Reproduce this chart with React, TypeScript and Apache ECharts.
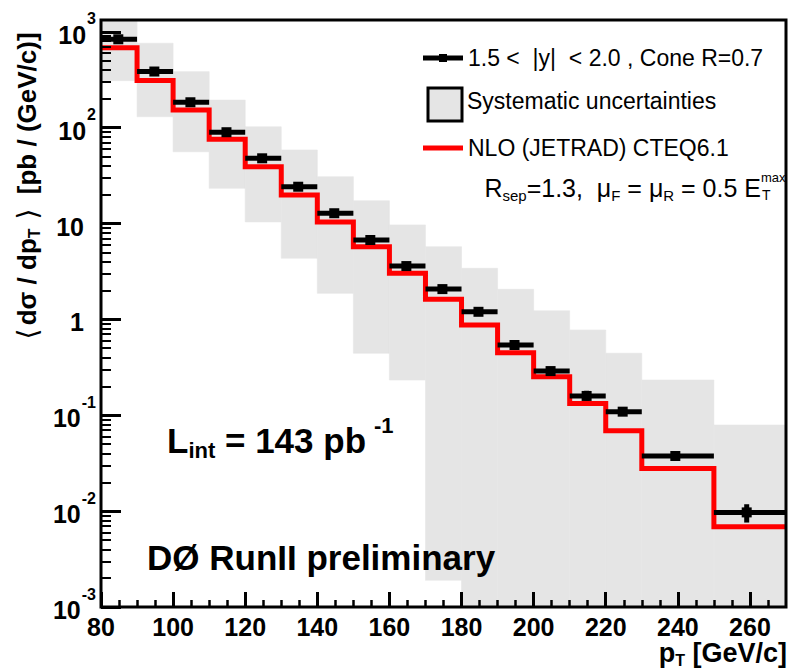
import React, { useEffect, useRef } from "react";
import * as echarts from "echarts";

// pT bin edges [GeV/c]
const binEdges = [80, 90, 100, 110, 120, 130, 140, 150, 160, 170, 180, 190, 200, 210, 220, 230, 250, 270];
// mean pT of the measured points in each bin
const ptMean = [84.8, 94.8, 104.8, 114.8, 124.7, 134.7, 144.7, 154.7, 164.7, 174.7, 184.7, 194.7, 204.7, 214.7, 224.7, 239.3, 259.1];
// measured cross section <dsigma/dpT> [pb/(GeV/c)]
const xsecData = [835, 385, 184, 89.6, 47.9, 24.2, 12.8, 6.73, 3.6, 2.07, 1.2, 0.541, 0.289, 0.159, 0.109, 0.0376, 0.0097];
// statistical error band edges
const statLow = [800, 368, 177, 86.5, 46.2, 23.3, 12.3, 6.45, 3.44, 1.97, 1.14, 0.515, 0.275, 0.142, 0.102, 0.0352, 0.0076];
const statHigh = [872, 402, 191, 93, 49.6, 25.1, 13.3, 7.0, 3.76, 2.17, 1.26, 0.568, 0.303, 0.18, 0.116, 0.0401, 0.0118];
// systematic uncertainty band per bin
const systLow = [309, 130, 56, 23.3, 10.4, 4.34, 1.87, 0.443, 0.233, 0.0019, 0.0005, 0.0005, 0.0005, 0.0005, 0.0005, 0.0005, 0.0005];
const systHigh = [2000, 759, 384, 194, 102, 58.5, 30.8, 17.3, 9.66, 5.73, 3.41, 2.06, 1.23, 0.775, 0.443, 0.233, 0.079];
// NLO prediction (JETRAD, CTEQ6.1) per bin
const nloJetrad = [680, 310, 153, 75.7, 39.2, 19.8, 10.4, 5.73, 3.03, 1.62, 0.873, 0.449, 0.252, 0.133, 0.069, 0.0279, 0.00687];

// axis ticks
const xMajorTicks = [80, 100, 120, 140, 160, 180, 200, 220, 240, 260];
const xMinorTicks = [85, 90, 95, 105, 110, 115, 125, 130, 135, 145, 150, 155, 165, 170, 175, 185, 190, 195, 205, 210, 215, 225, 230, 235, 245, 250, 255, 265];
const yDecades = [0.001, 0.01, 0.1, 1, 10, 100, 1000];
const yMinorTicks: number[] = [];
for (const d of yDecades) {
  for (const m of [2, 3, 4, 5, 6, 7, 8, 9]) yMinorTicks.push(+(m * d).toPrecision(3));
}

const FONT = "'Liberation Sans', Arial, Helvetica, sans-serif";

const GRID = { left: 101, top: 20, width: 685, height: 587 };

function buildOption(): any {
  const bandData = systLow.map((lo, i) => [binEdges[i], binEdges[i + 1], lo, systHigh[i]]);
  const nloData = binEdges.map((x, i) => [x, nloJetrad[Math.min(i, nloJetrad.length - 1)]]);
  const pointData = xsecData.map((v, i) => [binEdges[i], binEdges[i + 1], ptMean[i], v, statLow[i], statHigh[i]]);

  const legendX = 423;
  const textX = 468;

  return {
    animation: false,
    backgroundColor: "#fff",
    grid: { left: GRID.left, top: GRID.top, width: GRID.width, height: GRID.height, containLabel: false },
    xAxis: [
      {
        type: "value",
        min: 80,
        max: 270,
        z: 10,
        axisLine: { show: false },
        splitLine: { show: false },
        axisTick: { show: true, inside: true, length: 15, customValues: xMajorTicks, lineStyle: { color: "#000", width: 3 } },
        axisLabel: {
          customValues: xMajorTicks,
          margin: 7,
          color: "#000",
          fontFamily: FONT,
          fontWeight: "bold",
          fontSize: 25,
        },
      },
      {
        type: "value",
        min: 80,
        max: 270,
        position: "bottom",
        z: 10,
        axisLine: { show: false },
        splitLine: { show: false },
        axisLabel: { show: false },
        axisTick: { show: true, inside: true, length: 7, customValues: xMinorTicks, lineStyle: { color: "#000", width: 2.5 } },
      },
    ],
    yAxis: [
      {
        type: "log",
        logBase: 10,
        min: 0.001,
        max: 1327,
        z: 10,
        axisLine: { show: false },
        splitLine: { show: false },
        minorTick: { show: false },
        axisTick: { show: true, inside: true, length: 20, customValues: yDecades, lineStyle: { color: "#000", width: 3 } },
        axisLabel: {
          customValues: yDecades,
          margin: 5,
          color: "#000",
          formatter: (v: number) => {
            const e = Math.round(Math.log10(v));
            if (e === 0) return "{b|1}{gap|}";
            if (e === 1) return "{b|10}{gap|}";
            return `{b|10}{s|${e}}`;
          },
          rich: {
            b: { fontFamily: FONT, fontWeight: "bold", fontSize: 25, lineHeight: 25, padding: [6, 0, 0, 0], color: "#000" },
            s: { fontFamily: FONT, fontWeight: "bold", fontSize: 16, lineHeight: 16, padding: [0, 0, 26, 1], color: "#000" },
            gap: { width: 12 },
          },
        },
      },
      {
        type: "log",
        logBase: 10,
        min: 0.001,
        max: 1327,
        position: "left",
        z: 10,
        axisLine: { show: false },
        splitLine: { show: false },
        axisLabel: { show: false },
        axisTick: { show: true, inside: true, length: 10, customValues: yMinorTicks, lineStyle: { color: "#000", width: 2 } },
      },
    ],
    series: [
      {
        type: "custom",
        name: "Systematic uncertainties",
        clip: true,
        z: 1,
        xAxisIndex: 0,
        yAxisIndex: 0,
        data: bandData,
        encode: { x: [0, 1], y: [2, 3] },
        renderItem: (_params: any, api: any) => {
          const p0 = api.coord([api.value(0), api.value(3)]);
          const p1 = api.coord([api.value(1), api.value(2)]);
          return {
            type: "rect",
            shape: { x: p0[0], y: p0[1], width: p1[0] - p0[0], height: p1[1] - p0[1] },
            style: { fill: "#e5e5e5", stroke: "#e5e5e5", lineWidth: 0.6 },
          };
        },
      },
      {
        type: "line",
        name: "NLO (JETRAD) CTEQ6.1",
        step: "end",
        z: 2,
        xAxisIndex: 0,
        yAxisIndex: 0,
        data: nloData,
        showSymbol: false,
        symbol: "none",
        lineStyle: { color: "#ff0000", width: 5, join: "miter", cap: "butt" },
      },
      {
        type: "custom",
        name: "1.5 < |y| < 2.0 , Cone R=0.7",
        z: 3,
        clip: true,
        xAxisIndex: 0,
        yAxisIndex: 0,
        data: pointData,
        encode: { x: [0, 1, 2], y: [3, 4, 5] },
        renderItem: (_params: any, api: any) => {
          const v = api.value(3);
          const left = api.coord([api.value(0), v]);
          const right = api.coord([api.value(1), v]);
          const c = api.coord([api.value(2), v]);
          const eLo = api.coord([api.value(2), api.value(4)]);
          const eHi = api.coord([api.value(2), api.value(5)]);
          return {
            type: "group",
            children: [
              {
                type: "line",
                shape: { x1: left[0], y1: left[1], x2: right[0], y2: right[1] },
                style: { stroke: "#000", lineWidth: 5 },
              },
              {
                type: "line",
                shape: { x1: c[0], y1: eLo[1], x2: c[0], y2: eHi[1] },
                style: { stroke: "#000", lineWidth: 5 },
              },
              {
                type: "rect",
                shape: { x: c[0] - 5, y: c[1] - 5, width: 10, height: 10 },
                style: { fill: "#000" },
              },
            ],
          };
        },
      },
    ],
    graphic: [
      // frame
      {
        type: "rect",
        z: 100,
        shape: { x: GRID.left, y: GRID.top, width: GRID.width, height: GRID.height },
        style: { fill: "none", stroke: "#000", lineWidth: 3 },
      },
      // legend: data
      { type: "line", z: 50, shape: { x1: legendX, y1: 58, x2: legendX + 40, y2: 58 }, style: { stroke: "#000", lineWidth: 5 } },
      { type: "rect", z: 50, shape: { x: legendX + 16, y: 54, width: 8, height: 8 }, style: { fill: "#000" } },
      {
        type: "text",
        z: 50,
        x: textX,
        y: 58,
        style: { text: "1.5 <  |y|  < 2.0 , Cone R=0.7", font: `23px ${FONT}`, fill: "#000", verticalAlign: "middle", align: "left" },
      },
      // legend: systematic band
      {
        type: "rect",
        z: 50,
        shape: { x: 428, y: 88, width: 34, height: 33 },
        style: { fill: "#e5e5e5", stroke: "#000", lineWidth: 3 },
      },
      {
        type: "text",
        z: 50,
        x: 467,
        y: 101,
        style: { text: "Systematic uncertainties", font: `23px ${FONT}`, fill: "#000", verticalAlign: "middle", align: "left" },
      },
      // legend: NLO
      { type: "line", z: 50, shape: { x1: legendX, y1: 148, x2: legendX + 40, y2: 148 }, style: { stroke: "#ff0000", lineWidth: 5 } },
      {
        type: "text",
        z: 50,
        x: textX,
        y: 148,
        style: { text: "NLO (JETRAD) CTEQ6.1", font: `23px ${FONT}`, fill: "#000", verticalAlign: "middle", align: "left" },
      },
      // NLO settings line
      {
        type: "text",
        z: 50,
        x: 761,
        y: 188,
        style: {
          text: "{t|R}{sub|sep}{t|=1.3,  μ}{sub|F}{t| = μ}{sub|R}{t| = 0.5 E}",
          align: "right",
          verticalAlign: "middle",
          fill: "#000",
          rich: {
            t: { fontFamily: FONT, fontSize: 25, lineHeight: 25, fill: "#000" },
            sub: { fontFamily: FONT, fontSize: 15, lineHeight: 15, padding: [14, 0, 0, 0], fill: "#000" },
          },
        },
      },
      {
        type: "text",
        z: 50,
        x: 761,
        y: 177,
        style: { text: "max", font: `13px ${FONT}`, fill: "#000", verticalAlign: "middle", align: "left" },
      },
      {
        type: "text",
        z: 50,
        x: 762,
        y: 195,
        style: { text: "T", font: `14px ${FONT}`, fill: "#000", verticalAlign: "middle", align: "left" },
      },
      // luminosity
      {
        type: "text",
        z: 50,
        x: 167,
        y: 440,
        style: {
          text: "{b|L}{sub|int}{b| = 143 pb}{sup|-1}",
          align: "left",
          verticalAlign: "middle",
          rich: {
            b: { fontFamily: FONT, fontWeight: "bold", fontSize: 35, lineHeight: 35, fill: "#000" },
            sub: { fontFamily: FONT, fontWeight: "bold", fontSize: 22, lineHeight: 22, padding: [20, 0, 0, 0], fill: "#000" },
            sup: { fontFamily: FONT, fontWeight: "bold", fontSize: 22, lineHeight: 22, padding: [0, 0, 30, 8], fill: "#000" },
          },
        },
      },
      // experiment label
      {
        type: "text",
        z: 50,
        x: 147,
        y: 557,
        style: { text: "DØ RunII preliminary", font: `bold 35px ${FONT}`, fill: "#000", verticalAlign: "middle", align: "left" },
      },
      // y-axis title
      {
        type: "text",
        z: 50,
        x: 27,
        y: 186,
        rotation: Math.PI / 2,
        style: {
          text: "{br|⟨} {a|dσ / dp}{sub|T}{br| ⟩}{a|  [pb / (GeV/c)]}",
          align: "center",
          verticalAlign: "middle",
          rich: {
            a: { fontFamily: FONT, fontWeight: "bold", fontSize: 26, lineHeight: 26, fill: "#000" },
            br: { fontFamily: "'DejaVu Sans', sans-serif", fontWeight: "normal", fontSize: 28, lineHeight: 28, fill: "#000" },
            sub: { fontFamily: FONT, fontWeight: "bold", fontSize: 16, lineHeight: 16, padding: [14, 0, 0, 0], fill: "#000" },
          },
        },
      },
      // x-axis title
      {
        type: "text",
        z: 50,
        x: 787,
        y: 653,
        style: {
          text: "{a|p}{sub|T}{a| [GeV/c]}",
          align: "right",
          verticalAlign: "middle",
          rich: {
            a: { fontFamily: FONT, fontWeight: "bold", fontSize: 27, lineHeight: 27, fill: "#000" },
            sub: { fontFamily: FONT, fontWeight: "bold", fontSize: 16, lineHeight: 16, padding: [14, 0, 0, 0], fill: "#000" },
          },
        },
      },
    ],
  };
}

export default function App() {
  const ref = useRef<HTMLDivElement>(null);
  useEffect(() => {
    if (!ref.current) return;
    const chart = echarts.init(ref.current, null, { renderer: "svg" });
    chart.setOption(buildOption());
    return () => chart.dispose();
  }, []);
  return <div ref={ref} style={{ position: "absolute", left: 0, top: 0, width: 789, height: 671 }} />;
}
